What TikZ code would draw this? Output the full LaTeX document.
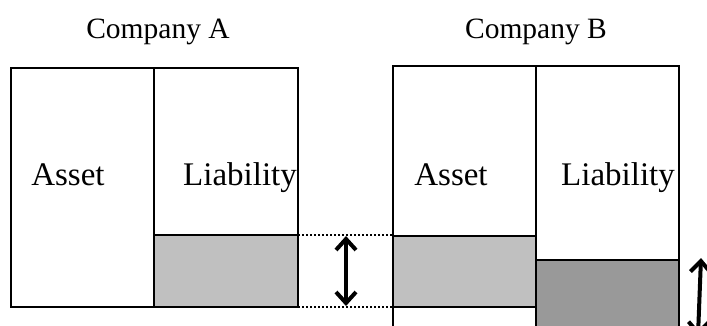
\documentclass[tikz,border=0pt]{standalone}
\usepackage{fontspec}
\setmainfont{Liberation Serif}
\usetikzlibrary{arrows.meta}
\begin{document}
\begin{tikzpicture}[x=1pt,y=-1pt,
  outer/.style={line width=2.6pt},
  inner/.style={line width=1.8pt},
  lightfill/.style={fill={rgb,255:red,192;green,192;blue,192}},
  darkfill/.style={fill={rgb,255:red,153;green,153;blue,153}},
  title/.style={font=\fontsize{29.5}{31}\selectfont, inner sep=0pt, anchor=base},
  lbl/.style={font=\fontsize{33}{35}\selectfont, inner sep=0pt, anchor=base},
  dots/.style={line width=2pt, dotted},
  dbl/.style={line width=4pt, {Straight Barb[length=11pt,width=20pt]}-{Straight Barb[length=11pt,width=20pt]}}
]
\useasboundingbox (0,0) rectangle (707,325);
% Company A
\coordinate (a1) at (11,68);
\coordinate (a2) at (298,307);
\draw[inner, lightfill] (154,235) rectangle (298,307);
\draw[inner] (154,68) -- (154,307);
\draw[outer] (a1) rectangle (a2);
% Company B
\draw[line width=1.4pt, lightfill] (393,236) rectangle (536,307);
\draw[inner, darkfill] (536,260) rectangle (679,345);
\draw[inner] (536,66) -- (536,345);
\draw[outer] (393,345) -- (393,66) -- (679,66) -- (679,345);
% texts
\node[title] (ta) at (158,38) {Company A};
\node[title] (tb) at (536,38) {Company B};
\node[lbl] (as1) at (68,185) {Asset};
\node[lbl] (li1) at (240,185) {Liability};
\node[lbl] (as2) at (451,185) {Asset};
\node[lbl] (li2) at (618,185) {Liability};
% dotted links
\coordinate (d1a) at (298,235); \coordinate (d1b) at (393,235);
\coordinate (d2a) at (298,307); \coordinate (d2b) at (393,307);
\draw[dots] (d1a) -- (d1b);
\draw[dots] (d2a) -- (d2b);
% arrows
\coordinate (ar1a) at (346,236); \coordinate (ar1b) at (346,306);
\draw[dbl] (ar1a) -- (ar1b);
\coordinate (ar2a) at (701,258); \coordinate (ar2b) at (698,336);
\draw[dbl] (ar2a) -- (ar2b);
\end{tikzpicture}
\end{document}
